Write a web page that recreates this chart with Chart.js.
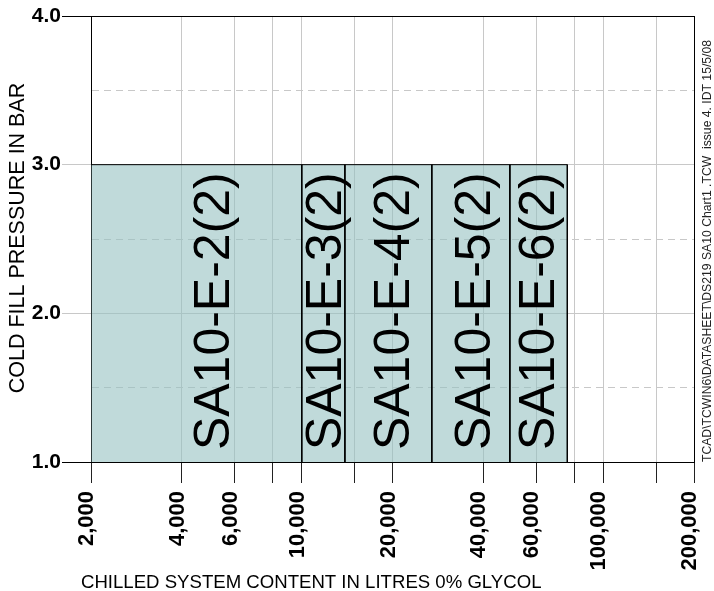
<!DOCTYPE html>
<html>
<head>
<meta charset="utf-8">
<script src="https://cdn.jsdelivr.net/npm/chart.js@4/dist/chart.umd.min.js"></script>
<style>
  html, body { margin: 0; padding: 0; background: #ffffff; }
  #wrap { width: 714px; height: 591px; }
</style>
</head>
<body>
<div id="wrap"><canvas id="c" width="714" height="591"></canvas></div>
<script>
// ---- data ----
const regionLabels = ['SA10-E-2(2)', 'SA10-E-3(2)', 'SA10-E-4(2)', 'SA10-E-5(2)', 'SA10-E-6(2)'];
const regionStart  = [2000, 10000, 13900, 27000, 49000];
const regionEnd    = [10000, 13900, 27000, 49000, 76000];
const pressureLow  = [1.0, 1.0, 1.0, 1.0, 1.0];
const pressureHigh = [3.0, 3.0, 3.0, 3.0, 3.0];
const labelX       = [5000, 11800, 19800, 36700, 60000];
const labelY       = [1.08, 1.08, 1.08, 1.08, 1.08];
const xTickValues  = [2000, 4000, 6000, 8000, 10000, 15000, 20000, 40000, 60000, 80000, 100000, 150000, 200000];
const xLabelValues = [2000, 4000, 6000, 10000, 20000, 40000, 60000, 100000, 200000];
const yTickValues  = [1.0, 1.5, 2.0, 2.5, 3.0, 3.5, 4.0];
const xTitle = 'CHILLED SYSTEM CONTENT IN LITRES 0% GLYCOL';
const yTitle = 'COLD FILL PRESSURE IN BAR';
const noteText = 'TCAD\\TCWIN6\\DATASHEET\\DS219 SA10 Chart1 .TCW  issue 4. IDT 15/5/08';

const FONT = '"Liberation Sans", Arial, Helvetica, sans-serif';
const GRID = '#c8c8c8';

const datasets = regionLabels.map((name, i) => ({
  label: name,
  data: [
    { x: regionStart[i], y: pressureLow[i] },
    { x: regionStart[i], y: pressureHigh[i] },
    { x: regionEnd[i],   y: pressureHigh[i] },
    { x: regionEnd[i],   y: pressureLow[i] }
  ],
  fill: 'start',
  backgroundColor: 'rgba(150,193,193,0.6)',
  borderColor: '#000000',
  borderWidth: 1,
  pointRadius: 0,
  tension: 0
}));

const textPlugin = {
  id: 'textPlugin',
  afterDatasetsDraw(chart) {
    const ctx = chart.ctx;
    const xs = chart.scales.x, ys = chart.scales.y;
    ctx.save();
    ctx.fillStyle = '#000';
    ctx.font = '50px ' + FONT;
    ctx.textAlign = 'left';
    ctx.textBaseline = 'alphabetic';
    regionLabels.forEach((t, i) => {
      const px = xs.getPixelForValue(labelX[i]);
      const py = ys.getPixelForValue(labelY[i]);
      ctx.save();
      ctx.translate(px, py);
      ctx.rotate(-Math.PI / 2);
      ctx.fillText(t, 0, 50 * 0.716 / 2);
      ctx.restore();
    });
    ctx.restore();
  },
  afterDraw(chart) {
    const ctx = chart.ctx;
    const area = chart.chartArea;
    ctx.save();
    ctx.fillStyle = '#000';
    ctx.font = '18.6px ' + FONT;
    ctx.textAlign = 'left';
    ctx.textBaseline = 'alphabetic';
    ctx.fillText(xTitle, 81, 588);
    ctx.save();
    ctx.font = '21.5px ' + FONT;
    ctx.translate(24, (area.top + area.bottom) / 2 - 1);
    ctx.rotate(-Math.PI / 2);
    ctx.textAlign = 'center';
    ctx.fillText(yTitle, 0, 0);
    ctx.restore();
    ctx.save();
    ctx.fillStyle = '#222';
    ctx.font = '12.5px ' + FONT;
    ctx.translate(711, area.bottom);
    ctx.rotate(-Math.PI / 2);
    ctx.textAlign = 'left';
    ctx.fillText(noteText, 0, 0, 422);
    ctx.restore();
    ctx.restore();
  }
};

new Chart(document.getElementById('c'), {
  type: 'line',
  data: { datasets },
  options: {
    responsive: false,
    animation: false,
    devicePixelRatio: 1,
    layout: { padding: { left: 0, top: 16, right: 20, bottom: 0 } },
    plugins: {
      legend: { display: false },
      tooltip: { enabled: false },
      title: { display: false }
    },
    scales: {
      x: {
        type: 'logarithmic',
        min: 2000,
        max: 200000,
        afterBuildTicks: (s) => { s.ticks = xTickValues.map(v => ({ value: v })); },
        afterFit: (s) => { s.height = 129; s.paddingLeft = 0; s.paddingRight = 0; },
        border: { display: true, color: '#000', width: 1 },
        grid: {
          color: (c) => (c.tick && c.tick.value === 200000) ? '#000' : GRID,
          lineWidth: 1,
          drawTicks: true,
          tickLength: 21,
          tickColor: '#222',
          tickWidth: 1
        },
        ticks: {
          autoSkip: false,
          minRotation: 90,
          maxRotation: 90,
          padding: 8,
          labelOffset: -4,
          color: '#000',
          font: { family: FONT, size: 22, weight: 'bold' },
          callback: (v) => xLabelValues.includes(v) ? v.toLocaleString('en-US') : ''
        }
      },
      y: {
        type: 'linear',
        min: 1,
        max: 4,
        afterBuildTicks: (s) => { s.ticks = yTickValues.map(v => ({ value: v })); },
        afterFit: (s) => { s.width = 91; s.paddingTop = 0; s.paddingBottom = 0; },
        border: {
          display: true, color: '#000', width: 1,
          dash: (c) => (c.tick && Math.abs(c.tick.value % 1) > 0.01) ? [7, 5] : []
        },
        grid: {
          color: (c) => (c.tick && c.tick.value === 4) ? '#000' : GRID,
          lineWidth: 1,
          drawTicks: true,
          tickLength: 29,
          tickWidth: 1,
          tickColor: (c) => {
            if (!c.tick) return GRID;
            const v = c.tick.value;
            if (v === 1 || v === 4) return '#000';
            if (v === 2 || v === 3) return GRID;
            return 'rgba(0,0,0,0)';
          }
        },
        ticks: {
          padding: 1,
          color: '#000',
          font: { family: FONT, size: 21, weight: 'bold' },
          callback: (v) => (Math.abs(v % 1) < 0.01) ? Number(v).toFixed(1) : ''
        }
      }
    }
  },
  plugins: [textPlugin]
});
</script>
</body>
</html>
